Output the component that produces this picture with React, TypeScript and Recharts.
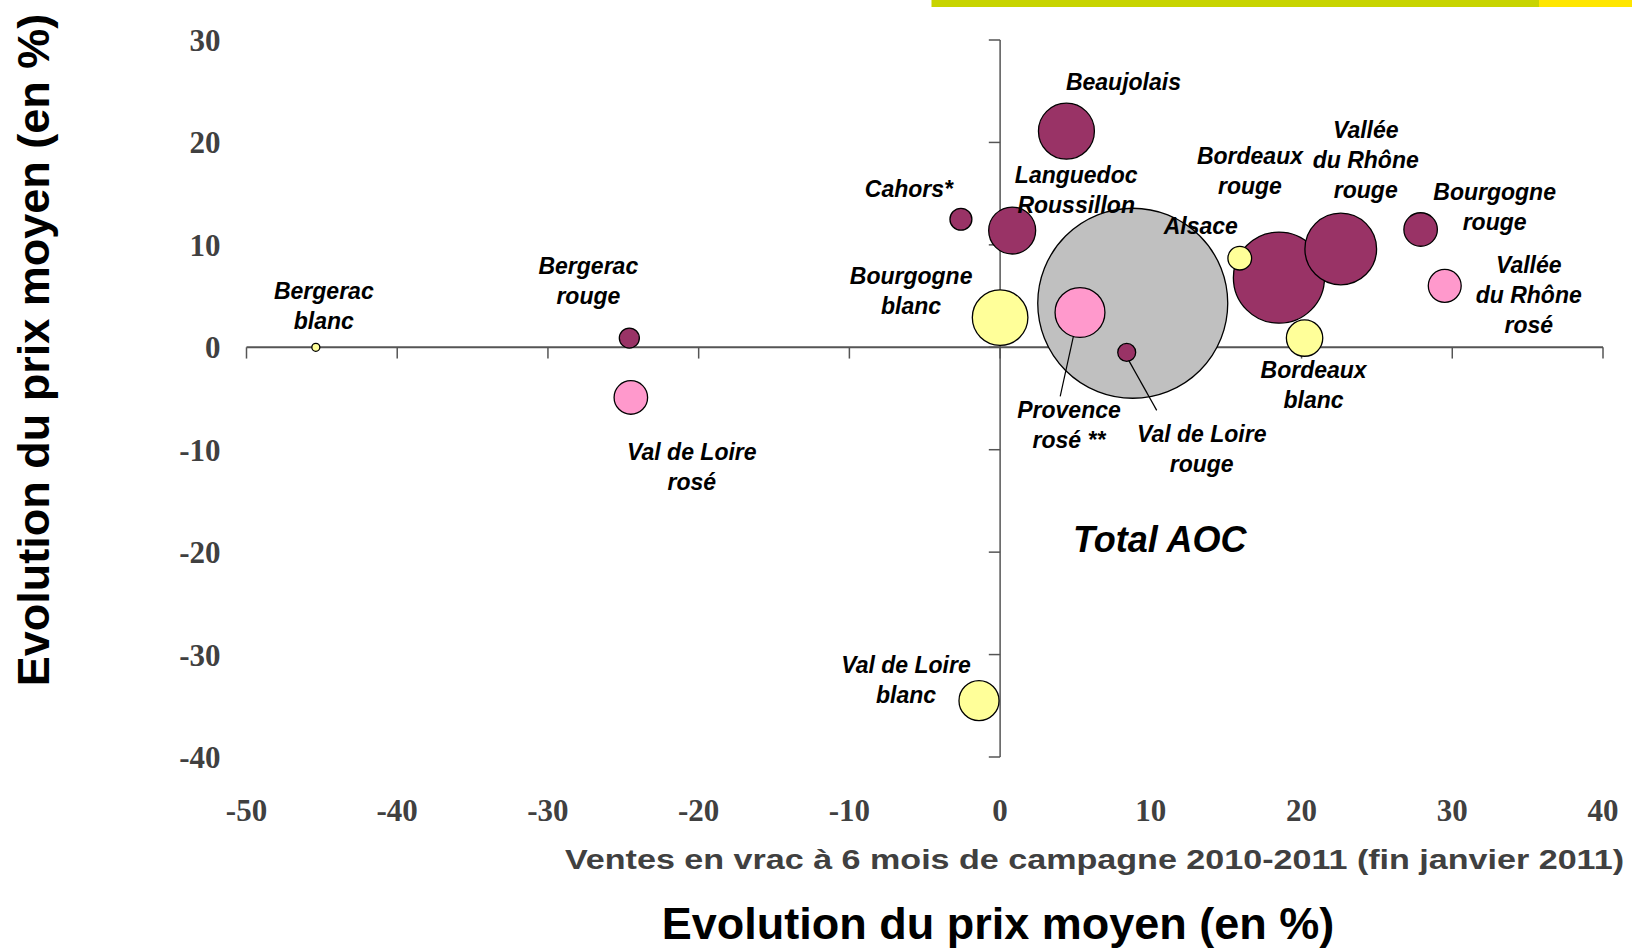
import React from 'react';
import { ScatterChart, Scatter, XAxis, YAxis, ZAxis, ReferenceLine } from 'recharts';

// appellations, in drawing order
const appellations = [
  'Total AOC',
  'Beaujolais',
  'Cahors*',
  'Languedoc Roussillon',
  'Bordeaux rouge',
  'Vallée du Rhône rouge',
  'Bourgogne rouge',
  'Val de Loire rouge',
  'Bergerac rouge',
  'Provence rosé **',
  'Vallée du Rhône rosé',
  'Val de Loire rosé',
  'Bourgogne blanc',
  'Alsace',
  'Bordeaux blanc',
  'Bergerac blanc',
  'Val de Loire blanc',
];
const couleurs = [
  'total', 'rouge', 'rouge', 'rouge', 'rouge', 'rouge', 'rouge', 'rouge', 'rouge',
  'rose', 'rose', 'rose', 'blanc', 'blanc', 'blanc', 'blanc', 'blanc',
];
// evolution des ventes en vrac (%)
const ventes = [8.8, 4.4, -2.6, 0.8, 18.5, 22.6, 27.9, 8.4, -24.6, 5.3, 29.5, -24.5, 0.0, 15.9, 20.2, -45.4, -1.4];
// evolution du prix moyen (%)
const prix = [4.3, 21.1, 12.5, 11.4, 6.8, 9.6, 11.5, -0.5, 0.9, 3.4, 6.0, -4.9, 2.9, 8.7, 0.9, 0.0, -34.5];
// volumes (bubble size)
const volumes = [900, 78, 12, 55, 207, 128, 28, 8, 10, 62, 27, 28, 77, 14, 33, 1.6, 40];

const xTicks = [-50, -40, -30, -20, -10, 0, 10, 20, 30, 40];
const yTicks = [-40, -30, -20, -10, 0, 10, 20, 30];

const labelLines: Record<string, string[]> = {
  'Total AOC': ['Total AOC'],
  Beaujolais: ['Beaujolais'],
  'Cahors*': ['Cahors*'],
  'Languedoc Roussillon': ['Languedoc', 'Roussillon'],
  'Bordeaux rouge': ['Bordeaux', 'rouge'],
  'Vallée du Rhône rouge': ['Vallée', 'du Rhône', 'rouge'],
  'Bourgogne rouge': ['Bourgogne', 'rouge'],
  'Val de Loire rouge': ['Val de Loire', 'rouge'],
  'Bergerac rouge': ['Bergerac', 'rouge'],
  'Provence rosé **': ['Provence', 'rosé **'],
  'Vallée du Rhône rosé': ['Vallée', 'du Rhône', 'rosé'],
  'Val de Loire rosé': ['Val de Loire', 'rosé'],
  'Bourgogne blanc': ['Bourgogne', 'blanc'],
  Alsace: ['Alsace'],
  'Bordeaux blanc': ['Bordeaux', 'blanc'],
  'Bergerac blanc': ['Bergerac', 'blanc'],
  'Val de Loire blanc': ['Val de Loire', 'blanc'],
};

// label placement relative to the bubble centre (px)
const labelLayout: Record<string, { dx: number; dy: number; size?: number; leader?: number[] }> = {
  'Total AOC': { dx: 27, dy: 236, size: 36 },
  Beaujolais: { dx: 57, dy: -49 },
  'Cahors*': { dx: -52, dy: -31 },
  'Languedoc Roussillon': { dx: 64, dy: -56 },
  'Bordeaux rouge': { dx: -29, dy: -122 },
  'Vallée du Rhône rouge': { dx: 25, dy: -119 },
  'Bourgogne rouge': { dx: 74, dy: -38 },
  'Val de Loire rouge': { dx: 75, dy: 81, leader: [2, 8, 30, 58] },
  'Bergerac rouge': { dx: -41, dy: -72 },
  'Provence rosé **': { dx: -11, dy: 97, leader: [-6.6, 24, -19.8, 84] },
  'Vallée du Rhône rosé': { dx: 84, dy: -21 },
  'Val de Loire rosé': { dx: 61, dy: 54 },
  'Bourgogne blanc': { dx: -89, dy: -42 },
  Alsace: { dx: -39, dy: -32 },
  'Bordeaux blanc': { dx: 9, dy: 32 },
  'Bergerac blanc': { dx: 8, dy: -57 },
  'Val de Loire blanc': { dx: -73, dy: -36 },
};

const FILLS: Record<string, string> = {
  total: '#C0C0C0',
  rouge: '#993366',
  rose: '#FF99CC',
  blanc: '#FFFF99',
};

const points = appellations.map((name, i) => ({
  name,
  type: couleurs[i],
  x: ventes[i],
  y: prix[i],
  z: volumes[i],
}));

const SERIES = ['total', 'rouge', 'rose', 'blanc'];

const Bubble = (props: any) => {
  const { cx, cy, width, size, payload } = props;
  const r = width ? width / 2 : Math.sqrt((size || 0) / Math.PI);
  return (
    <circle cx={cx} cy={cy} r={r} fill={FILLS[payload.type]} stroke="#000" strokeWidth={1.3} />
  );
};

const BubbleLabel = (props: any) => {
  const { cx, cy, payload } = props;
  const lay = labelLayout[payload.name];
  const lines = labelLines[payload.name];
  const fs = lay.size || 23;
  return (
    <g>
      {lay.leader && (
        <line
          x1={cx + lay.leader[0]}
          y1={cy + lay.leader[1]}
          x2={cx + lay.leader[2]}
          y2={cy + lay.leader[3]}
          stroke="#000"
          strokeWidth={1.2}
        />
      )}
      <text
        textAnchor="middle"
        fontFamily="Arial, 'Liberation Sans', sans-serif"
        fontStyle="italic"
        fontWeight="bold"
        fontSize={fs}
        fill="#000"
      >
        {lines.map((l, i) => (
          <tspan key={i} x={cx + lay.dx} y={cy + lay.dy + i * 30} dy="0.36em">
            {l}
          </tspan>
        ))}
      </text>
    </g>
  );
};

const tickStyle = {
  fill: '#404040',
  fontSize: 31,
  fontFamily: "'Liberation Serif', 'Times New Roman', serif",
  fontWeight: 'bold',
};

export default function App() {
  return (
    <div style={{ position: 'absolute', left: 0, top: 0, width: 1632, height: 950, background: '#fff' }}>
      <ScatterChart width={1632} height={950} margin={{ top: 40, right: 29, bottom: 133, left: 186.5 }}>
        <XAxis
          type="number"
          dataKey="x"
          domain={[-50, 40]}
          ticks={xTicks}
          interval={0}
          axisLine={false}
          tickLine={false}
          tickSize={0}
          tickMargin={42}
          height={60}
          tick={tickStyle}
        />
        <YAxis
          type="number"
          dataKey="y"
          domain={[-40, 30]}
          ticks={yTicks}
          interval={0}
          axisLine={false}
          tickLine={false}
          tickSize={0}
          tickMargin={26}
          width={60}
          tick={tickStyle}
        />
        <ZAxis type="number" dataKey="z" domain={[0, 900]} range={[0, Math.PI * 95 * 95]} />
        <ReferenceLine y={0} stroke="#555" strokeWidth={2} />
        <ReferenceLine x={0} stroke="#555" strokeWidth={1.5} />
        {xTicks.map((t) => (
          <ReferenceLine
            key={'xt' + t}
            segment={[{ x: t, y: 0 }, { x: t, y: -1.1 }]}
            stroke="#555"
            strokeWidth={1.5}
          />
        ))}
        {yTicks.map((t) => (
          <ReferenceLine
            key={'yt' + t}
            segment={[{ x: 0, y: t }, { x: -0.75, y: t }]}
            stroke="#555"
            strokeWidth={1.5}
          />
        ))}
        {SERIES.map((s) => (
          <Scatter
            key={s}
            data={points.filter((p) => p.type === s)}
            shape={Bubble}
            isAnimationActive={false}
          />
        ))}
        <Scatter data={points} shape={BubbleLabel} isAnimationActive={false} />
      </ScatterChart>
      <svg
        width={1632}
        height={950}
        style={{ position: 'absolute', left: 0, top: 0, pointerEvents: 'none' }}
      >
        <rect x={931.5} y={0} width={607.5} height={7} fill="#C8D400" />
        <rect x={1539} y={0} width={93} height={7} fill="#FFE600" />
        <text
          x={565}
          y={869}
          fontFamily="Arial, 'Liberation Sans', sans-serif"
          fontWeight="bold"
          fontSize={27}
          fill="#404040"
          textLength={1059}
          lengthAdjust="spacingAndGlyphs"
        >
          Ventes en vrac à 6 mois de campagne 2010-2011 (fin janvier 2011)
        </text>
        <text
          x={998}
          y={939}
          textAnchor="middle"
          fontFamily="Arial, 'Liberation Sans', sans-serif"
          fontWeight="bold"
          fontSize={45}
          fill="#000"
        >
          Evolution du prix moyen (en %)
        </text>
        <text
          x={0}
          y={0}
          transform="translate(49, 350) rotate(-90)"
          textAnchor="middle"
          fontFamily="Arial, 'Liberation Sans', sans-serif"
          fontWeight="bold"
          fontSize={45}
          fill="#000"
        >
          Evolution du prix moyen (en %)
        </text>
      </svg>
    </div>
  );
}
